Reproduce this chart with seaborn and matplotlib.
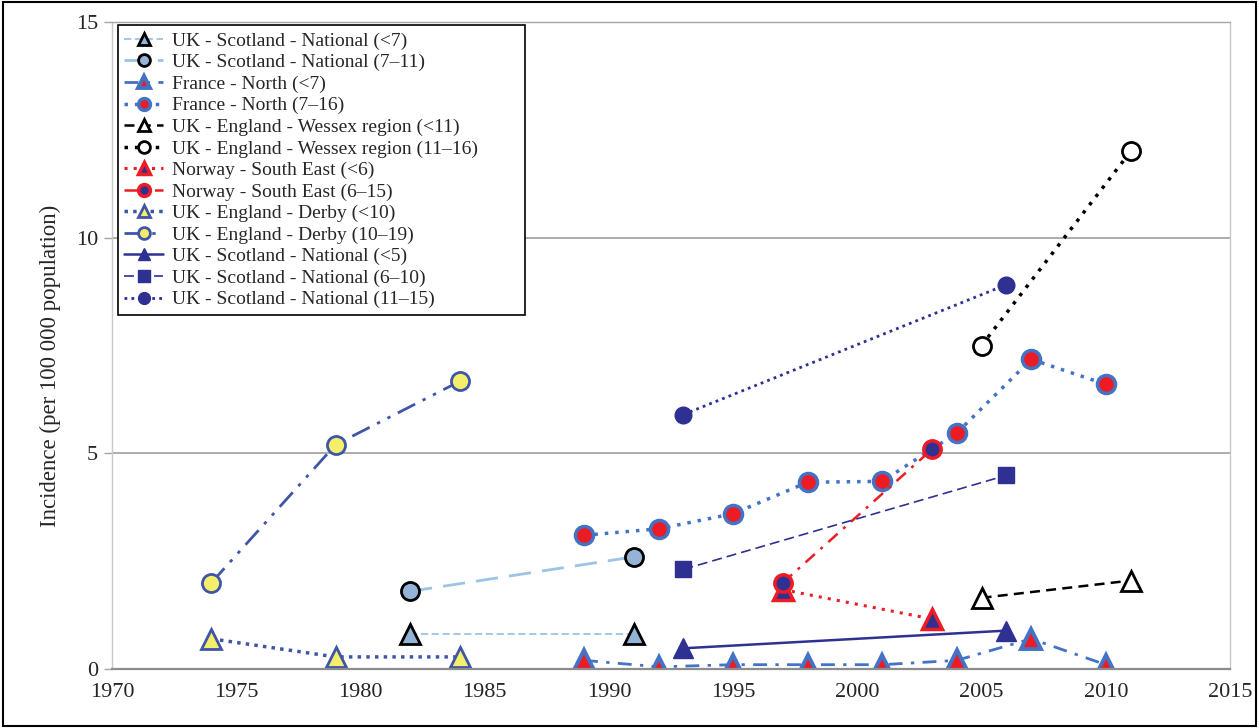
import seaborn as sns
import matplotlib.pyplot as plt
from matplotlib.patches import Rectangle

sns.set_style("white")
plt.rcParams['font.family'] = ['Liberation Serif', 'DejaVu Serif']

# data
sc_u7_year = [1982, 1991]
sc_u7_val = [0.8, 0.8]
sc_7_11_year = [1982, 1991]
sc_7_11_val = [1.8, 2.6]
fr_u7_year = [1989, 1992, 1995, 1998, 2001, 2004, 2007, 2010]
fr_u7_val = [0.2, 0.05, 0.1, 0.1, 0.1, 0.2, 0.7, 0.1]
fr_7_16_year = [1989, 1992, 1995, 1998, 2001, 2004, 2007, 2010]
fr_7_16_val = [3.1, 3.25, 3.6, 4.33, 4.35, 5.47, 7.18, 6.6]
wx_u11_year = [2005, 2011]
wx_u11_val = [1.65, 2.05]
wx_11_16_year = [2005, 2011]
wx_11_16_val = [7.5, 12.0]
no_u6_year = [1997, 2003]
no_u6_val = [1.84, 1.16]
no_6_15_year = [1997, 2003]
no_6_15_val = [2.0, 5.09]
db_u10_year = [1974, 1979, 1984]
db_u10_val = [0.7, 0.28, 0.28]
db_10_19_year = [1974, 1979, 1984]
db_10_19_val = [2.0, 5.2, 6.67]
sn_u5_year = [1993, 2006]
sn_u5_val = [0.48, 0.89]
sn_6_10_year = [1993, 2006]
sn_6_10_val = [2.31, 4.49]
sn_11_15_year = [1993, 2006]
sn_11_15_val = [5.9, 8.91]

LIGHT = '#9dc3e6'
LIGHTFACE = '#95b3d7'
MID = '#4472c4'
RED = '#ed1c24'
NAVY = '#2e3192'
DERBY = '#3f55a8'
YELLOW = '#f5ee6a'

series = [
    ("UK - Scotland - National (<7)", sc_u7_year, sc_u7_val,
     dict(color=LIGHT, linestyle=(0, (4, 2)), linewidth=1.3, marker='^', markersize=14,
          markerfacecolor=LIGHTFACE, markeredgecolor='black', markeredgewidth=2)),
    ("UK - Scotland - National (7\u201311)", sc_7_11_year, sc_7_11_val,
     dict(color=LIGHT, linestyle=(0, (8, 4)), linewidth=2, marker='o', markersize=13,
          markerfacecolor=LIGHTFACE, markeredgecolor='black', markeredgewidth=2)),
    ("France - North (<7)", fr_u7_year, fr_u7_val,
     dict(color=MID, linestyle=(0, (5, 3, 1.2, 3)), linewidth=2, marker='^', markersize=15,
          markerfacecolor=RED, markeredgecolor=MID, markeredgewidth=2.8)),
    ("France - North (7\u201316)", fr_7_16_year, fr_7_16_val,
     dict(color=MID, linestyle=(0, (1, 2)), linewidth=2.5, marker='o', markersize=13,
          markerfacecolor=RED, markeredgecolor=MID, markeredgewidth=2.5)),
    ("UK - England - Wessex region (<11)", wx_u11_year, wx_u11_val,
     dict(color='black', linestyle=(0, (4, 2.5)), linewidth=1.8, marker='^', markersize=14,
          markerfacecolor='white', markeredgecolor='black', markeredgewidth=2)),
    ("UK - England - Wessex region (11\u201316)", wx_11_16_year, wx_11_16_val,
     dict(color='black', linestyle=(0, (1, 2)), linewidth=2.5, marker='o', markersize=13,
          markerfacecolor='white', markeredgecolor='black', markeredgewidth=2)),
    ("Norway - South East (<6)", no_u6_year, no_u6_val,
     dict(color=RED, linestyle=(0, (1, 2)), linewidth=2.2, marker='^', markersize=14,
          markerfacecolor=NAVY, markeredgecolor=RED, markeredgewidth=2.5)),
    ("Norway - South East (6\u201315)", no_6_15_year, no_6_15_val,
     dict(color=RED, linestyle=(0, (5, 3, 1.2, 3)), linewidth=1.8, marker='o', markersize=12.5,
          markerfacecolor=NAVY, markeredgecolor=RED, markeredgewidth=2.5)),
    ("UK - England - Derby (<10)", db_u10_year, db_u10_val,
     dict(color=DERBY, linestyle=(0, (1, 1.5)), linewidth=2.5, marker='^', markersize=14,
          markerfacecolor=YELLOW, markeredgecolor=DERBY, markeredgewidth=2)),
    ("UK - England - Derby (10\u201319)", db_10_19_year, db_10_19_val,
     dict(color=DERBY, linestyle=(0, (7, 3, 1.2, 3, 1.2, 3)), linewidth=2, marker='o', markersize=13,
          markerfacecolor=YELLOW, markeredgecolor=DERBY, markeredgewidth=2)),
    ("UK - Scotland - National (<5)", sn_u5_year, sn_u5_val,
     dict(color=NAVY, linestyle='-', linewidth=1.8, marker='^', markersize=14,
          markerfacecolor=NAVY, markeredgecolor=NAVY, markeredgewidth=1)),
    ("UK - Scotland - National (6\u201310)", sn_6_10_year, sn_6_10_val,
     dict(color=NAVY, linestyle=(0, (6, 3)), linewidth=1.2, marker='s', markersize=12,
          markerfacecolor=NAVY, markeredgecolor=NAVY, markeredgewidth=1)),
    ("UK - Scotland - National (11\u201315)", sn_11_15_year, sn_11_15_val,
     dict(color=NAVY, linestyle=(0, (1, 1.5)), linewidth=2, marker='o', markersize=12,
          markerfacecolor=NAVY, markeredgecolor=NAVY, markeredgewidth=1)),
]

fig = plt.figure(figsize=(12.59, 7.28), dpi=100)
ax = fig.add_axes([112 / 1259, 1 - 669 / 728, 1118 / 1259, 647 / 728])

for label, xs, ys, style in series:
    sns.lineplot(x=xs, y=ys, ax=ax, label=label, errorbar=None, **style)

ax.set_xlim(1970, 2015)
ax.set_ylim(0, 15)
ax.set_xticks(range(1970, 2016, 5))
ax.set_yticks([0, 5, 10, 15])
ax.set_xlabel("")
ax.set_ylabel("Incidence (per 100 000 population)", fontsize=16.5)
ax.yaxis.set_label_coords(-0.046, 0.468)
ax.tick_params(axis='x', length=0, pad=10, labelsize=16)
ax.tick_params(axis='y', length=6, width=1, color='#a6a6a6', pad=4, labelsize=16, left=True)
ax.yaxis.grid(True, color='#a6a6a6', linewidth=1.3)
ax.set_axisbelow(True)

for side in ['left', 'right', 'top']:
    ax.spines[side].set_color('#c8c8c8')
    ax.spines[side].set_linewidth(1)
ax.spines['top'].set_color('#a6a6a6')
ax.spines['bottom'].set_color('#8c8c8c')
ax.spines['bottom'].set_linewidth(1.6)

leg = ax.legend(loc='upper left', bbox_to_anchor=(0.005, 0.55, 0.364, 0.445), mode='expand',
                borderaxespad=0, fontsize=14, frameon=True, fancybox=False, framealpha=1,
                edgecolor='black', handlelength=2.0, handletextpad=0.45, labelspacing=0.2,
                borderpad=0.35, numpoints=1)
leg.get_frame().set_linewidth(1.2)
for h in leg.legend_handles:
    h.set_markersize(8.5)

fig.patches.append(Rectangle((0.002, 0.003), 0.996, 0.994, transform=fig.transFigure,
                             fill=False, edgecolor='black', linewidth=1.5))

fig.savefig("out.png", dpi=100)
